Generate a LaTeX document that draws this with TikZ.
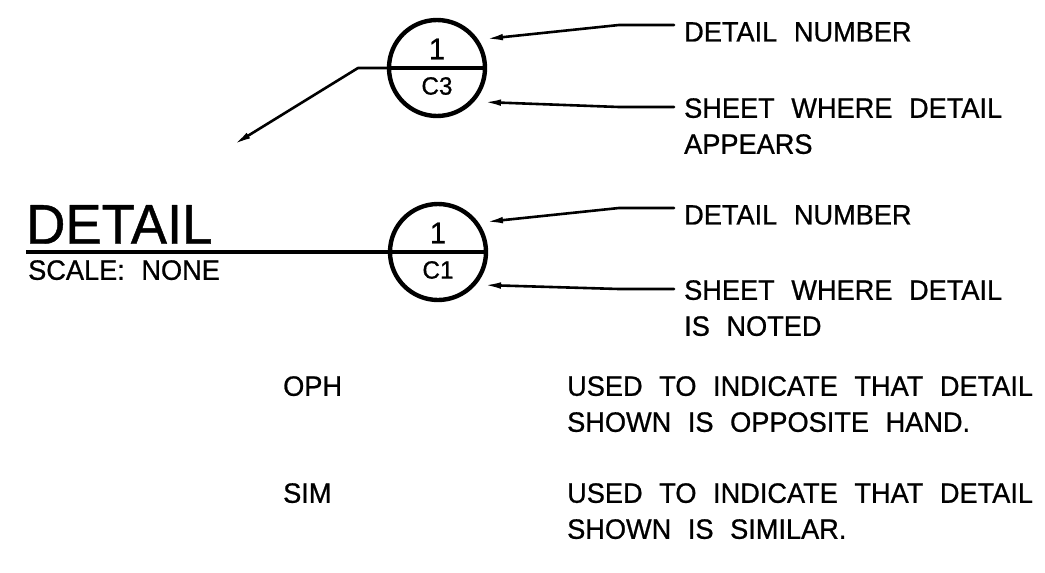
\documentclass[tikz,border=0pt]{standalone}
\usepackage{fontspec}
\setmainfont{Liberation Sans}[FakeStretch=0.97,WordSpace=2.2,FakeBold=0.8]
\usetikzlibrary{arrows.meta,positioning,calc}

\begin{document}
\begin{tikzpicture}[
	x=1pt, y=-1pt,
	>={Latex[length=18pt,width=6.5pt]},
	line join=round
	]
	% Styles
	\tikzset{
		tagc/.style={circle, draw, line width=4.4pt, minimum size=96pt, inner sep=0pt, outer sep=0pt},
		bar/.style={line width=4.6pt, line cap=butt},
		lead/.style={line width=2.6pt, line cap=round},
		num/.style={inner sep=0pt, font=\fontsize{30}{30}\selectfont},
		sht/.style={inner sep=0pt, font=\fontsize{25}{25}\selectfont},
		lbl/.style={anchor=north west, inner sep=0pt, align=left, font=\fontsize{28}{36}\selectfont},
		ttl/.style={anchor=north west, inner sep=0pt, font=\fontsize{56}{56}\selectfont}
	}
	\useasboundingbox (0,0) rectangle (1045,573);
	
	% ===== upper tag =====
	\node[tagc] (tagA) at (437,68) {};
	\node[num] (tagAn) at ($(tagA.center)+(0,-19)$) {1};
	\node[sht] (tagAs) at ($(tagA.center)+(0,18)$) {C3};
	\draw[bar] (tagA.west) -- (tagA.east);
	\coordinate (tagAk) at (358,68);
	\coordinate (tagAp) at (233,145);
	\draw[lead,->] (tagA.west) -- (tagAk) -- (tagAp);
	
	\node[lbl] (numA) at (684,22) {DETAIL NUMBER};
	\node[lbl] (shtA) at (684,98) {SHEET WHERE DETAIL\\APPEARS};
	\coordinate (tipA1) at ($(tagA.center)+(48,-29)$);
	\coordinate (tipA2) at ($(tagA.center)+(46,34)$);
	\draw[lead,->] ($(numA.north west)+(-10,3)$) -- ++(-55,0) -- (tipA1);
	\draw[lead,->] ($(shtA.north west)+(-10,9)$) -- ++(-55,0) -- (tipA2);
	
	% ===== lower tag =====
	\node[ttl] (ttl) at (26,205) {DETAIL};
	\node[lbl] (scl) at (28,260) {SCALE: NONE};
	\node[tagc] (tagB) at (438,252) {};
	\node[num] (tagBn) at ($(tagB.center)+(0,-19)$) {1};
	\node[sht] (tagBs) at ($(tagB.center)+(0,18)$) {C1};
	\draw[bar] (ttl.south west |- tagB.west) -- (tagB.east);
	
	\node[lbl] (numB) at (684,205) {DETAIL NUMBER};
	\node[lbl] (shtB) at (684,280) {SHEET WHERE DETAIL\\IS NOTED};
	\coordinate (tipB1) at ($(tagB.center)+(47,-30)$);
	\coordinate (tipB2) at ($(tagB.center)+(45,33)$);
	\draw[lead,->] ($(numB.north west)+(-10,3)$) -- ++(-55,0) -- (tipB1);
	\draw[lead,->] ($(shtB.north west)+(-10,9)$) -- ++(-55,0) -- (tipB2);
	
	% ===== notes =====
	\node[lbl] (oph) at (283,376) {OPH};
	\node[lbl] (ophT) at (567,376) {USED TO INDICATE THAT DETAIL\\SHOWN IS OPPOSITE HAND.};
	\node[lbl] (sim) at (283,483) {SIM};
	\node[lbl] (simT) at (567,483) {USED TO INDICATE THAT DETAIL\\SHOWN IS SIMILAR.};
\end{tikzpicture}
\end{document}
